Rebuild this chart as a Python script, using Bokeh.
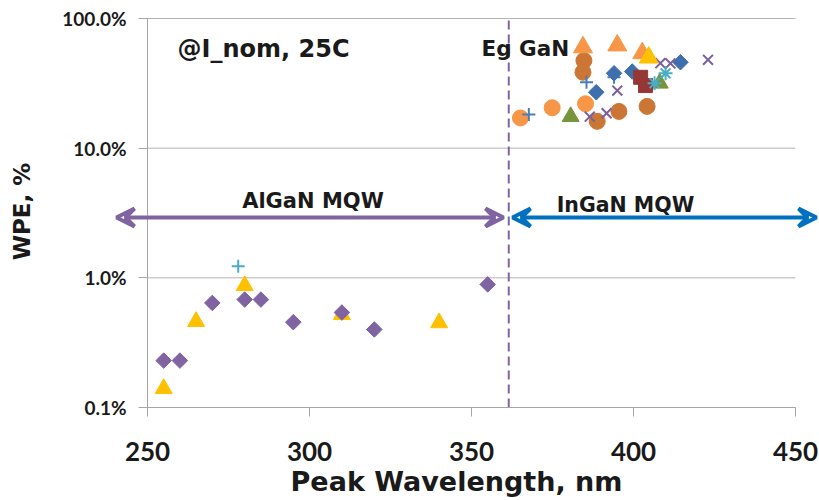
import math
from bokeh.plotting import figure
from bokeh.models import (FixedTicker, CustomJSTickFormatter, Label, Arrow,
                          VeeHead, Range1d)
from bokeh.embed import file_html
from bokeh.resources import INLINE

# ---- data (WPE in %) ----
x_ticks = [250, 300, 350, 400, 450]
y_ticks = [0.1, 1, 10, 100]

algan_dia_x = [255, 260, 270, 280, 285, 295, 310, 320, 355]
algan_dia_y = [0.23, 0.23, 0.64, 0.68, 0.68, 0.455, 0.54, 0.40, 0.89]
algan_tri_x = [255, 265, 280, 310, 340]
algan_tri_y = [0.14, 0.46, 0.87, 0.52, 0.45]
algan_plus_x = [278]
algan_plus_y = [1.23]

or_tri_x = [384.4, 395.0, 402.7]
or_tri_y = [60.0, 62.0, 54.0]
yel_tri_x = [404.7]
yel_tri_y = [50.0]
dko_circ_x = [384.7, 384.4, 388.8, 395.5, 404.2]
dko_circ_y = [47.4, 38.5, 16.1, 19.2, 21.0]
lto_circ_x = [365.1, 374.9, 385.2]
lto_circ_y = [17.1, 20.5, 22.0]
blue_plus_x = [367.7, 385.5, 394.0]
blue_plus_y = [18.2, 32.3, 35.3]
blue_dia_x = [388.5, 394.0, 399.6, 414.5]
blue_dia_y = [27.0, 37.8, 39.0, 46.0]
purp_x_x = [386.5, 391.7, 395.0, 402.2, 408.3, 411.4, 423.0]
purp_x_y = [17.5, 18.6, 27.8, 34.6, 45.2, 45.0, 48.0]
red_sq_x = [402.2, 403.7]
red_sq_y = [35.2, 30.4]
grn_tri_x = [380.6, 408.1]
grn_tri_y = [17.5, 31.7]
teal_ast_x = [406.5, 409.9]
teal_ast_y = [31.7, 37.8]

eg_gan = 361.5
x_lo, x_hi = 250, 450
y_lo, y_hi = 0.1, 100

# ---- layout (pixels): the frame covers the whole canvas, axes are placed inside ----
W, H = 819, 500
AX_L, AX_R, AX_T, AX_B = 147, 795, 18, 407
px_nm = (AX_R - AX_L) / (x_hi - x_lo)
px_dec = (AX_B - AX_T) / (math.log10(y_hi) - math.log10(y_lo))
x_start = x_lo - AX_L / px_nm
x_end = x_hi + (W - AX_R) / px_nm
y_top = 10 ** (math.log10(y_hi) + AX_T / px_dec)
y_bot = 10 ** (math.log10(y_lo) - (H - AX_B) / px_dec)

def xd(px):
    return x_lo + (px - AX_L) / px_nm

def yd(py):
    return 10 ** (math.log10(y_hi) - (py - AX_T) / px_dec)

TICK_FONT = "Lato"
FONT = "DejaVu Sans"
TXT = "#1a1a1a"
GRID = "#B4B4B4"
AXC = "#A6A6A6"

p = figure(width=W, height=H, output_backend="svg", toolbar_location=None,
           y_axis_type="log", x_range=Range1d(x_start, x_end),
           y_range=Range1d(y_bot, y_top),
           min_border_left=0, min_border_right=0, min_border_top=0, min_border_bottom=0)
p.outline_line_color = None
p.background_fill_color = "white"
p.xgrid.grid_line_color = None
p.ygrid.grid_line_color = None

p.xaxis.ticker = FixedTicker(ticks=x_ticks)
p.xaxis.bounds = (x_lo, x_hi)
p.xaxis.fixed_location = y_lo
p.yaxis.ticker = FixedTicker(ticks=y_ticks)
p.yaxis.bounds = (y_lo, y_hi)
p.yaxis.fixed_location = x_lo
p.yaxis.formatter = CustomJSTickFormatter(code="return tick.toFixed(1) + '%';")
for ax in (p.xaxis, p.yaxis):
    ax.axis_line_color = AXC
    ax.major_tick_line_color = AXC
    ax.minor_tick_line_color = None
    ax.major_tick_out = 9
    ax.major_tick_in = 0
    ax.major_label_text_font = TICK_FONT
    ax.major_label_text_font_style = "bold"
    ax.major_label_text_color = TXT
p.xaxis.major_label_text_font_size = "26px"
p.yaxis.major_label_text_font_size = "19px"
p.xaxis.major_label_standoff = 25
p.yaxis.major_label_standoff = 12

# horizontal gridlines
p.segment(x0=[x_lo] * len(y_ticks), x1=[x_hi] * len(y_ticks), y0=y_ticks, y1=y_ticks,
          line_color=GRID, line_width=1)
# GaN band-gap line
p.segment(x0=[eg_gan], x1=[eg_gan], y0=[y_lo], y1=[y_hi], line_color="#8064A2",
          line_width=2, line_dash="9 5")

ROT = math.pi / 4
# AlGaN
p.scatter(algan_tri_x, algan_tri_y, marker="triangle", size=17, color="#FFC000")
p.scatter(algan_dia_x, algan_dia_y, marker="square", angle=ROT, size=11, color="#8064A2")
p.scatter(algan_plus_x, algan_plus_y, marker="cross", size=13, line_color="#4BACC6",
          line_width=2, fill_color=None)

# InGaN
p.scatter(lto_circ_x, lto_circ_y, marker="circle", size=16, color="#F79646")
p.scatter(dko_circ_x, dko_circ_y, marker="circle", size=16, color="#CB7634")
p.scatter(blue_plus_x, blue_plus_y, marker="cross", size=13, line_color="#4A7EBB",
          line_width=2, fill_color=None)
p.scatter(blue_dia_x, blue_dia_y, marker="square", angle=ROT, size=11, color="#3E70AD")
p.scatter(purp_x_x, purp_x_y, marker="x", size=14, line_color="#7A5F9C",
          line_width=2, fill_color=None)
p.scatter(grn_tri_x, grn_tri_y, marker="triangle", size=17, color="#77933C")
p.scatter(red_sq_x, red_sq_y, marker="square", size=14, color="#953735")
p.scatter(teal_ast_x, teal_ast_y, marker="asterisk", size=14, line_color="#4BACC6",
          line_width=2, fill_color=None)
p.scatter(or_tri_x, or_tri_y, marker="triangle", size=19, color="#F79646")
p.scatter(yel_tri_x, yel_tri_y, marker="triangle", size=19, color="#FFC000")

# arrows
arr_y = yd(217)
def arrow(x0, x1, col):
    p.add_layout(Arrow(x_start=x0, y_start=arr_y, x_end=x1, y_end=arr_y,
                       line_color=col, line_width=4,
                       start=VeeHead(size=18, line_color=col, line_width=4, fill_color=None),
                       end=VeeHead(size=18, line_color=col, line_width=4, fill_color=None)))
arrow(xd(116), xd(503), "#8064A2")
arrow(xd(512), xd(816), "#0070C0")

def lab(x, y, t, size, align="left", angle=0.0):
    p.add_layout(Label(x=x, y=y, text=t, text_font=FONT, text_font_size=size,
                       text_font_style="bold", text_color=TXT, angle=angle,
                       text_align=align, text_baseline="middle"))

lab(xd(177), yd(48), "@I_nom, 25C", "24px")
lab(xd(481), yd(48), "Eg GaN", "21.5px")
lab(xd(312.5), yd(200), "AlGaN MQW", "21px", align="center")
lab(xd(625), yd(204), "InGaN MQW", "20.5px", align="center")
# axis titles
lab(xd(456), yd(481), "Peak Wavelength, nm", "27px", align="center")
lab(xd(21.5), yd(211), "WPE, %", "23px", align="center", angle=math.pi / 2)

open("out.html", "w").write(file_html(p, INLINE))
